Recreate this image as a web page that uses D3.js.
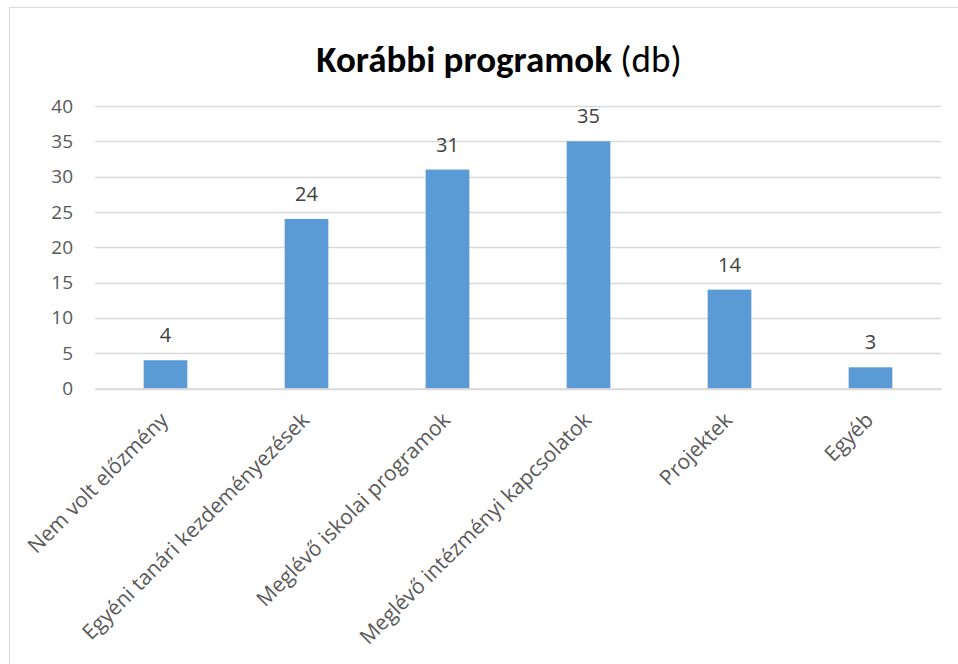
<!DOCTYPE html>
<html>
<head>
<meta charset="utf-8">
<script src="https://cdn.jsdelivr.net/npm/d3@7"></script>
<style>
  body { margin: 0; background: #fff; }
  svg { display: block; }
</style>
</head>
<body>
<div id="chart"></div>
<script>
const categories = ["Nem volt előzmény", "Egyéni tanári kezdeményezések", "Meglévő iskolai programok",
    "Meglévő intézményi kapcsolatok", "Projektek", "Egyéb"];
const values = [4, 24, 31, 35, 14, 3];
const yTicks = [0, 5, 10, 15, 20, 25, 30, 35, 40];

const W = 958, H = 664;
const margin = {top: 106, right: 17, bottom: 275.5, left: 95};
const width = W - margin.left - margin.right;
const height = H - margin.top - margin.bottom;
const titleFont = "Carlito, Calibri, Lato, sans-serif";
const font = "'Open Sans', 'Segoe UI', sans-serif";

const svg = d3.select("#chart").append("svg")
    .attr("width", W)
    .attr("height", H);

// outer chart border
svg.append("rect")
    .attr("x", 9.5).attr("y", 7.5)
    .attr("width", W).attr("height", H)
    .attr("fill", "#fff")
    .attr("stroke", "#d9d9d9")
    .attr("stroke-width", 1);

// title
const title = svg.append("text")
    .attr("x", 499).attr("y", 72)
    .attr("text-anchor", "middle")
    .style("font-family", titleFont)
    .style("font-size", "37px")
    .style("fill", "#000");
title.append("tspan").style("font-weight", "bold").text("Korábbi programok");
title.append("tspan").text(" (db)");

const g = svg.append("g")
    .attr("transform", `translate(${margin.left},${margin.top})`);

const x = d3.scaleBand()
    .domain(categories)
    .range([0, width])
    .paddingInner(0.69)
    .paddingOuter(0.345);

const y = d3.scaleLinear()
    .domain([0, 40])
    .range([height, 0]);

// gridlines
g.selectAll(".grid")
    .data(yTicks)
    .join("line")
    .attr("class", "grid")
    .attr("x1", 0).attr("x2", width)
    .attr("y1", d => Math.round(y(d)) + 0.5)
    .attr("y2", d => Math.round(y(d)) + 0.5)
    .attr("stroke", "#d9d9d9")
    .attr("stroke-width", 1.3);

// y tick labels
const yAxis = g.append("g")
    .call(d3.axisLeft(y).tickValues(yTicks).tickSize(0).tickPadding(22));
yAxis.select(".domain").remove();
yAxis.selectAll("text")
    .style("font-family", font)
    .style("font-size", "19px")
    .style("fill", "#595959");

// bars
g.selectAll(".bar")
    .data(values)
    .join("rect")
    .attr("class", "bar")
    .attr("x", (d, i) => x(categories[i]))
    .attr("y", d => y(d))
    .attr("width", x.bandwidth())
    .attr("height", d => height - y(d))
    .attr("fill", "#5b9bd5");

// value labels
g.selectAll(".val")
    .data(values)
    .join("text")
    .attr("class", "val")
    .attr("x", (d, i) => x(categories[i]) + x.bandwidth() / 2)
    .attr("y", d => y(d) - 18)
    .attr("text-anchor", "middle")
    .style("font-family", font)
    .style("font-size", "20px")
    .style("fill", "#404040")
    .text(d => d);

// x axis
const xAxis = g.append("g")
    .attr("transform", `translate(0,${height})`)
    .call(d3.axisBottom(x).tickSize(0).tickPadding(0));
xAxis.select(".domain")
    .attr("stroke", "#d9d9d9")
    .attr("stroke-width", 1.3);
xAxis.selectAll("text")
    .style("font-family", font)
    .style("font-size", "21px")
    .style("fill", "#595959")
    .attr("text-anchor", "end")
    .attr("dy", 0)
    .attr("transform", "translate(4,33) rotate(-45)");
</script>
</body>
</html>
